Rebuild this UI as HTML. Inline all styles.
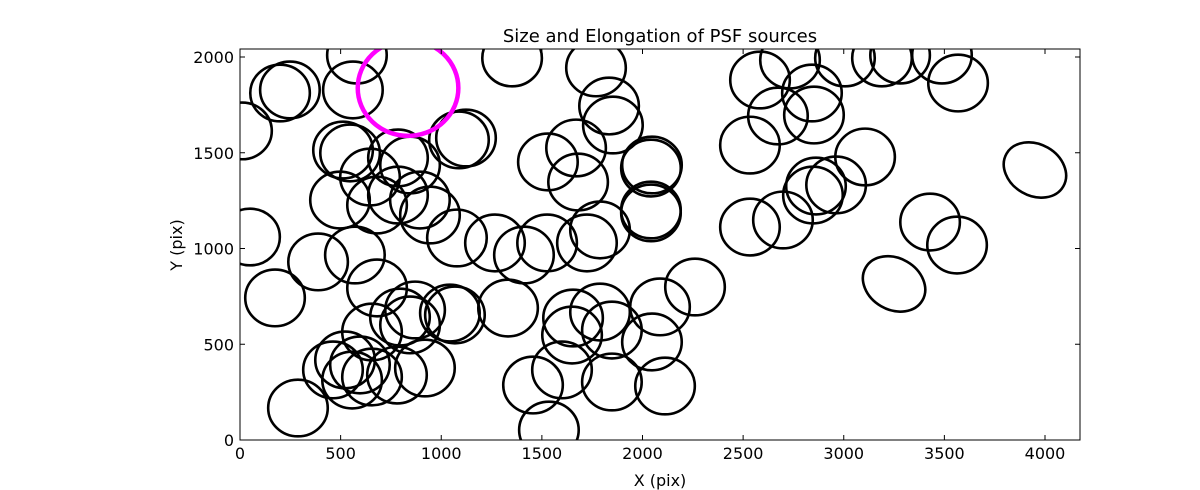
<!DOCTYPE html>
<html><head><meta charset="utf-8"><style>
body{margin:0;background:#fff;}
svg{display:block;font-family:"DejaVu Sans","Liberation Sans",sans-serif;}
</style></head><body>
<svg id="chart" width="1200" height="490" viewBox="0 0 1200 490" xmlns="http://www.w3.org/2000/svg">
<defs><clipPath id="clip"><rect x="240" y="49" width="840" height="391"/></clipPath></defs>
<text x="660" y="42" text-anchor="middle" font-size="18">Size and Elongation of PSF sources</text>
<g id="marks" clip-path="url(#clip)"></g>
<rect x="240" y="49" width="840" height="391" fill="none" stroke="#000" stroke-width="1"/>
<g id="ticks"></g>
<text x="660" y="486" text-anchor="middle" font-size="16">X (pix)</text>
<text transform="translate(182,245) rotate(-90)" text-anchor="middle" font-size="16">Y (pix)</text>
</svg>
<script>
const xs=[10,199,248,561,581,1352,1769,1834,1853,1088,1123,512,547,785,845,646,1530,1670,1680,2042,2047,2534,2673,2842,2852,2733,2584,3006,3190,3280,3488,3568,3106,2862,2962,2534,2698,2847,3429,3563,3950,3250,2261,2042,2042,1789,1724,1526,1411,1267,1078,894,944,785,681,497,571,388,681,174,50,795,870,656,845,1043,1068,1332,1655,1789,1848,1650,2087,2047,1848,1456,1600,1535,919,780,656,557,522,462,596,288,2112];
const ys=[1614,1812,1828,1828,2010,1995,1943,1744,1645,1567,1577,1514,1499,1473,1436,1373,1452,1525,1347,1420,1436,1540,1692,1812,1697,1984,1880,1995,1995,2010,2010,1864,1478,1326,1332,1112,1149,1279,1138,1018,1410,815,799,1201,1186,1097,1029,1029,966,1029,1055,1253,1175,1279,1227,1253,966,930,794,742,1060,642,679,564,601,663,653,689,637,668,574,548,695,512,303,287,366,52,376,339,329,313,418,366,392,167,282];
const angles=[];xs.forEach((_,i)=>angles.push(0));
angles[40]=30;angles[41]=30;
const elong=[];xs.forEach((_,i)=>elong.push(1.0));
elong[40]=1.1;elong[41]=1.1;
const size=148;
const hl={x:835,y:1838,r:250};
const xTicks=[0,500,1000,1500,2000,2500,3000,3500,4000];
const yTicks=[0,500,1000,1500,2000];
const X=v=>240+v*0.20125, Y=v=>440-v*0.1915;
const NS="http://www.w3.org/2000/svg";
const g=document.getElementById('marks');
xs.forEach((x,i)=>{
 const e=document.createElementNS(NS,'ellipse');
 
 
 const cx=X(x),cy=Y(ys[i]);
 e.setAttribute('cx',cx);e.setAttribute('cy',cy);
 e.setAttribute('rx',size*0.20125*elong[i]);e.setAttribute('ry',size*0.1915/elong[i]);
 e.setAttribute('transform',`rotate(${angles[i]} ${cx} ${cy})`);
 e.setAttribute('fill','none');e.setAttribute('stroke','#000');e.setAttribute('stroke-width','2.6');
 g.appendChild(e);
});
const m=document.createElementNS(NS,'ellipse');


m.setAttribute('cx',X(hl.x));m.setAttribute('cy',Y(hl.y));
m.setAttribute('rx',hl.r*0.20125);m.setAttribute('ry',hl.r*0.1915);
m.setAttribute('fill','none');m.setAttribute('stroke','#ff00ff');m.setAttribute('stroke-width','4.5');
g.appendChild(m);
const t=document.getElementById('ticks');
xTicks.forEach(v=>{
 const x=X(v);
 const l=document.createElementNS(NS,'path');
 
 
 l.setAttribute('d',`M${x},440v-5M${x},49v5`);l.setAttribute('stroke','#000');
 t.appendChild(l);
 const s=document.createElementNS(NS,'text');
 
 
 s.setAttribute('x',x);s.setAttribute('y',459);s.setAttribute('text-anchor','middle');s.setAttribute('font-size','16');
 s.textContent=v;t.appendChild(s);
});
yTicks.forEach(v=>{
 const y=Y(v);
 const l=document.createElementNS(NS,'path');
 
 
 l.setAttribute('d',`M240,${y}h5M1080,${y}h-5`);l.setAttribute('stroke','#000');
 t.appendChild(l);
 const s=document.createElementNS(NS,'text');
 
 
 s.setAttribute('x',234);s.setAttribute('y',y+6);s.setAttribute('text-anchor','end');s.setAttribute('font-size','16');
 s.textContent=v;t.appendChild(s);
});
</script>
</body></html>
